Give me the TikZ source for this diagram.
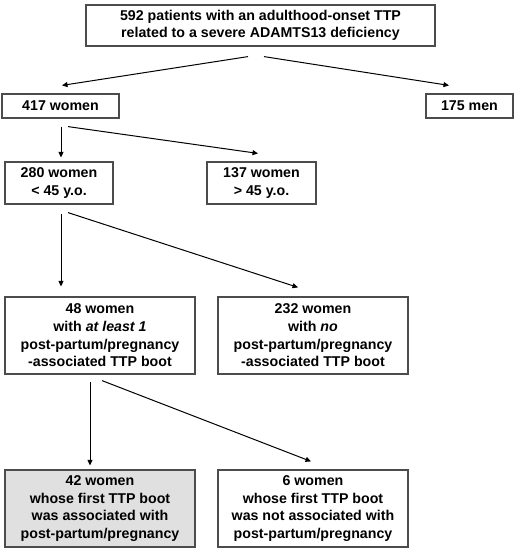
\documentclass[tikz,border=0pt]{standalone}
\usepackage{fontspec}
\setmainfont{Liberation Sans}
\usetikzlibrary{arrows.meta,calc}
\begin{document}
\begin{tikzpicture}[x=1pt,y=-1pt,
  box/.style={draw=black!70,line width=1.2pt,fill=white,align=center,inner sep=0pt,
    font=\fontsize{14.2}{17.6}\selectfont\bfseries},
  grey/.style={fill=black!12},
  conn/.style={line width=1pt,-{Triangle[length=5.5pt,width=5pt]}}]
\useasboundingbox (0,0) rectangle (520,552);
\node[box,minimum width=349pt,minimum height=41pt] (top) at (260.5,25.5)
  {592 patients with an adulthood-onset TTP\\related to a severe ADAMTS13 deficiency};
\node[box,minimum width=117pt,minimum height=24pt] (w417) at (60.5,106) {417 women};
\node[box,minimum width=87pt,minimum height=24pt] (m175) at (469.5,106) {175 men};
\node[box,minimum width=108pt,minimum height=42pt] (w280) at (59,183) {280 women\\< 45 y.o.};
\node[box,minimum width=109pt,minimum height=42pt] (w137) at (261.5,183) {137 women\\> 45 y.o.};
\node[box,minimum width=190pt,minimum height=77pt] (w48) at (100,335.5)
  {48 women\\with \textit{at least 1}\\post-partum/pregnancy\\-associated TTP boot};
\node[box,minimum width=190pt,minimum height=77pt] (w232) at (313,335.5)
  {232 women\\with \textit{no}\\post-partum/pregnancy\\-associated TTP boot};
\node[box,grey,minimum width=190pt,minimum height=77pt] (w42) at (100,508.5)
  {42 women\\whose first TTP boot\\was associated with\\post-partum/pregnancy};
\node[box,minimum width=190pt,minimum height=77pt] (w6) at (313,508.5)
  {6 women\\whose first TTP boot\\was not associated with\\post-partum/pregnancy};
\draw[conn] ($(top.south)+(-12.5,10)$) -- ($(w417.north)+(1.5,-8)$);
\draw[conn] ($(top.south)+(3.5,10)$) -- ($(m175.north)+(-20.5,-8)$);
\draw[conn] ($(w417.south)+(0.5,8)$) -- ($(w280.north)+(2,-4)$);
\draw[conn] ($(w417.south)+(7.5,8)$) -- ($(w137.north)+(-3.5,-8)$);
\draw[conn] ($(w280.south)+(2,9)$) -- ($(w48.north)+(-39,-10)$);
\draw[conn] ($(w280.south)+(9,8)$) -- ($(w232.north)+(-15,-9)$);
\draw[conn] ($(w48.south)+(-10,7)$) -- ($(w42.north)+(-10,-4)$);
\draw[conn] ($(w48.south)+(2,6)$) -- ($(w6.north)+(-2,-8)$);
\end{tikzpicture}
\end{document}
